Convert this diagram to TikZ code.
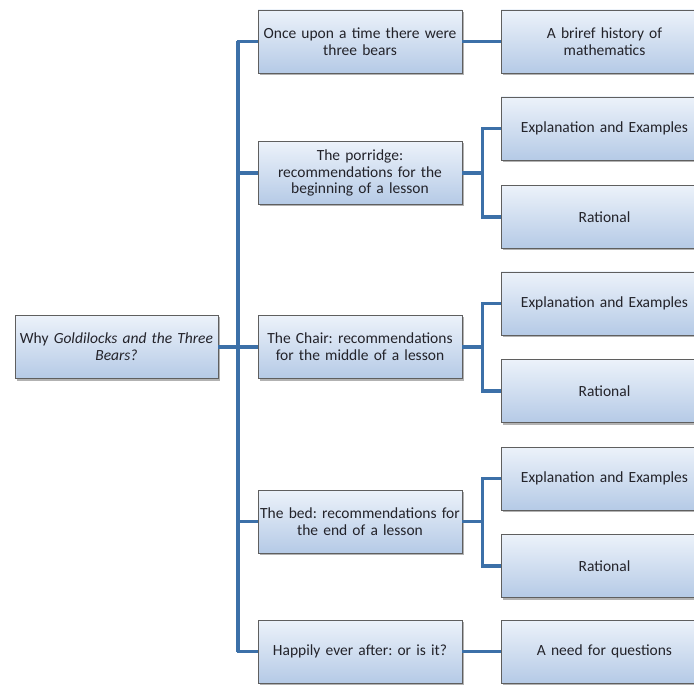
\documentclass[tikz,border=0pt]{standalone}
\usepackage{fontspec}
\setmainfont{Carlito}
\usetikzlibrary{shadows,calc}
\frenchspacing
\definecolor{linkblue}{RGB}{60,112,168}
\definecolor{boxtop}{RGB}{236,242,250}
\definecolor{boxbot}{RGB}{181,202,230}
\definecolor{boxline}{RGB}{95,95,95}
\definecolor{txt}{RGB}{35,35,42}
\tikzset{
  card/.style={draw=boxline, line width=0.9pt, top color=boxtop, bottom color=boxbot,
    minimum height=63pt, inner xsep=0pt, inner ysep=2pt, align=center, text=txt,
    font=\fontsize{15.5}{16.8}\selectfont,
    drop shadow={shadow xshift=1.5pt, shadow yshift=-2pt, fill=black, opacity=0.3}},
  midcard/.style={card, minimum width=204pt, text width=204pt},
  rightcard/.style={card, minimum width=207pt, text width=200pt},
  rootcard/.style={card, minimum width=203pt, text width=203pt},
  link/.style={draw=linkblue, line width=3.6pt}
}
\begin{document}
\begin{tikzpicture}[x=1pt, y=-1pt]
  \useasboundingbox (0,0) rectangle (694,687);
  \clip (0,0) rectangle (694,687);

  % root
  \node[rootcard] (root) at (116.5,347) {Why \textit{Goldilocks and the Three}\\\textit{Bears?}};

  % middle column
  \node[midcard] (m1) at (360,41.5) {Once upon a time there were\\three bears};
  \node[midcard] (m2) at (360,173) {The porridge:\\recommendations for the\\beginning of a lesson};
  \node[midcard] (m3) at (360,347) {The Chair: recommendations\\for the middle of a lesson};
  \node[midcard] (m4) at (360,521.5) {The bed: recommendations for\\the end of a lesson};
  \node[midcard] (m5) at (360,651.5) {Happily ever after: or is it?};

  % right column (runs past the right edge)
  \node[rightcard] (r1)  at (604.5,41.5) {A briref history of\\mathematics};
  \node[rightcard] (r2a) at (604.5,128.5) {Explanation and Examples};
  \node[rightcard] (r2b) at (604.5,217) {Rational};
  \node[rightcard] (r3a) at (604.5,303.5) {Explanation and Examples};
  \node[rightcard] (r3b) at (604.5,391) {Rational};
  \node[rightcard] (r4a) at (604.5,478.5) {Explanation and Examples};
  \node[rightcard] (r4b) at (604.5,566) {Rational};
  \node[rightcard] (r5)  at (604.5,651.5) {A need for questions};

  % trunk and branches
  \draw[link] ([xshift=-19.5pt]m1.west) -- ([xshift=-19.5pt]m5.west);
  \draw[link] (root.east) -- (m3.west);
  \foreach \m in {m1,m2,m4,m5}
    \draw[link] (\m.west) -- ++(-21,0);

  % forks
  \draw[link] (m1.east) -- (r1.west);
  \draw[link] (m5.east) -- (r5.west);
  \foreach \m/\a/\b in {m2/r2a/r2b, m3/r3a/r3b, m4/r4a/r4b}{
    \draw[link] (\m.east) -- ++(20,0) |- (\a.west);
    \draw[link] (\m.east) -- ++(20,0) |- (\b.west);
  }
\end{tikzpicture}
\end{document}
